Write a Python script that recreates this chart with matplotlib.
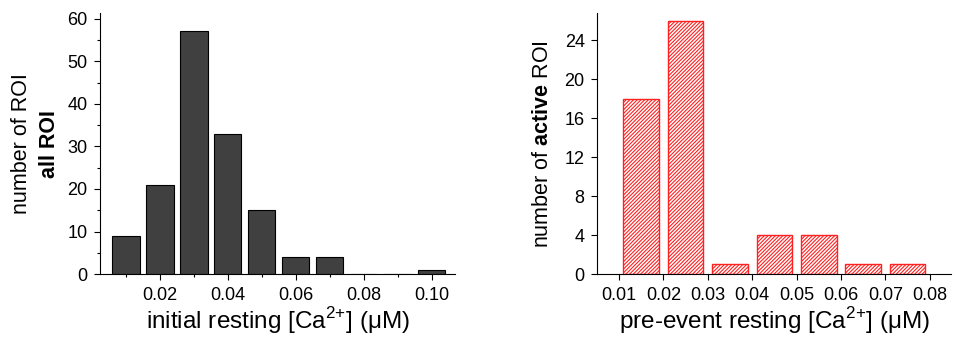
import matplotlib
matplotlib.use("Agg")
import matplotlib.pyplot as plt
from matplotlib.ticker import MultipleLocator

plt.rcParams['font.family'] = ['Liberation Sans', 'DejaVu Sans']
plt.rcParams['mathtext.fontset'] = 'custom'
plt.rcParams['mathtext.rm'] = 'Liberation Sans'
plt.rcParams['mathtext.bf'] = 'Liberation Sans:bold'
plt.rcParams['hatch.linewidth'] = 0.8

# left panel: all ROI
all_centers = [0.01, 0.02, 0.03, 0.04, 0.05, 0.06, 0.07, 0.08, 0.09, 0.10]
all_counts = [9, 21, 57, 33, 15, 4, 4, 0, 0, 1]
all_xticks = [0.02, 0.04, 0.06, 0.08, 0.10]
all_yticks = [0, 10, 20, 30, 40, 50, 60]

# right panel: active ROI
act_centers = [0.015, 0.025, 0.035, 0.045, 0.055, 0.065, 0.075]
act_counts = [18, 26, 1, 4, 4, 1, 1]
act_xticks = [0.01, 0.02, 0.03, 0.04, 0.05, 0.06, 0.07, 0.08]
act_yticks = [0, 4, 8, 12, 16, 20, 24]

fig = plt.figure(figsize=(9.54, 3.38), dpi=100)
ax1 = fig.add_axes([0.1048, 0.189, 0.372, 0.772])
ax2 = fig.add_axes([0.626, 0.189, 0.371, 0.772])

ca = 'Ca$^{2\\text{+}}$'

# left histogram
ax1.bar(all_centers, all_counts, width=0.008, color='#404040',
        edgecolor='black', linewidth=0.8)
ax1.set_xlim(0.00235, 0.1068)
ax1.set_ylim(0, 61.3)
ax1.set_xticks(all_xticks)
ax1.set_xticklabels(['%.2f' % v for v in all_xticks])
ax1.set_yticks(all_yticks)
ax1.xaxis.set_minor_locator(MultipleLocator(0.01))
ax1.yaxis.set_minor_locator(MultipleLocator(5))
ax1.set_xlabel('initial resting [' + ca + '] (μM)', fontsize=17.5, labelpad=1)
ax1.text(-0.22, 0.5, 'number of ROI', rotation=90, fontsize=15.5,
         transform=ax1.transAxes, ha='center', va='center')
ax1.text(-0.143, 0.5, 'all ROI', rotation=90, fontsize=15.5, fontweight='bold',
         transform=ax1.transAxes, ha='center', va='center')

# right histogram
ax2.bar(act_centers, act_counts, width=0.008, color='white',
        edgecolor='#ff2020', hatch='/////////', linewidth=1.0)
ax2.set_xlim(0.0051, 0.0848)
ax2.set_ylim(0, 26.8)
ax2.set_xticks(act_xticks)
ax2.set_xticklabels(['%.2f' % v for v in act_xticks])
ax2.set_yticks(act_yticks)
ax2.set_xlabel('pre-event resting [' + ca + '] (μM)', fontsize=17.5, labelpad=1)
ax2.set_ylabel(r'number of $\mathbf{active}$ ROI', fontsize=15.5, labelpad=8)

for ax in (ax1, ax2):
    ax.spines['top'].set_visible(False)
    ax.spines['right'].set_visible(False)
    ax.tick_params(which='major', direction='out', length=4, width=0.8,
                   labelsize=13, pad=5)
    ax.tick_params(which='minor', direction='out', length=2.5, width=0.8)

fig.savefig('out.png', dpi=100)
